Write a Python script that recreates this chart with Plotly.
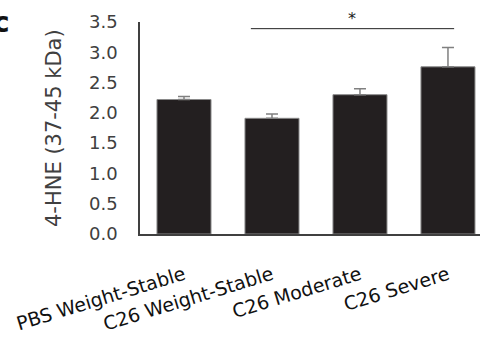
import plotly.graph_objects as go

categories = ["PBS Weight-Stable", "C26 Weight-Stable", "C26 Moderate", "C26 Severe"]
values = [2.22, 1.91, 2.30, 2.76]
errors = [0.05, 0.07, 0.10, 0.32]
y_ticks = [0.0, 0.5, 1.0, 1.5, 2.0, 2.5, 3.0, 3.5]

FONT = "DejaVu Sans, sans-serif"
L, R, T, B, W, H = 140, 0, 22, 105, 480, 339
PW, PH = W - L - R, H - T - B

fig = go.Figure()
fig.add_trace(go.Bar(
    x=list(range(len(categories))),
    y=values,
    width=0.614,
    marker=dict(color="#231f20", line=dict(color="#8a8a8a", width=1)),
    error_y=dict(type="data", array=errors, symmetric=False, arrayminus=[0] * 4,
                 color="#808080", thickness=1.5, width=6, visible=True),
    hoverinfo="skip",
))

# significance bracket
fig.add_shape(type="line", xref="x", yref="y", x0=0.76, x1=3.07, y0=3.39, y1=3.39,
              line=dict(color="#222222", width=1))
fig.add_annotation(x=1.91, y=3.39, xref="x", yref="y", text="*", showarrow=False,
                   yanchor="bottom", yshift=-1, font=dict(family=FONT, size=16, color="#222222"))

# panel letter
fig.add_annotation(x=(12 - L) / PW, y=1 + (T - 4) / PH, xref="paper", yref="paper",
                   text="<b>c</b>", showarrow=False, xanchor="right", yanchor="top",
                   font=dict(family=FONT, size=28, color="#111111"))

# y axis title
fig.add_annotation(x=(54 - L) / PW, y=0.5, xref="paper", yref="paper",
                   text="4-HNE (37-45 kDa)", showarrow=False, textangle=-90,
                   xanchor="center", yanchor="middle",
                   font=dict(family=FONT, size=21, color="#404040"))

fig.update_layout(
    width=W, height=H,
    margin=dict(l=L, r=R, t=T, b=B),
    paper_bgcolor="white", plot_bgcolor="white",
    showlegend=False,
    font=dict(family=FONT, size=18, color="#404040"),
    xaxis=dict(
        range=[-0.5, 3.364], automargin=False,
        tickmode="array", tickvals=list(range(len(categories))), ticktext=categories,
        tickangle=-17, showline=True, linecolor="#404040", linewidth=1.5,
        ticks="", showgrid=False, zeroline=False, ticklabelstandoff=21,
        tickfont=dict(family=FONT, size=19, color="#111111"),
    ),
    yaxis=dict(
        range=[0, 3.5], automargin=False, tickmode="array", tickvals=y_ticks,
        ticktext=[f"{v:.1f}" for v in y_ticks],
        showline=True, linecolor="#404040", linewidth=1.5,
        ticks="", showgrid=False, zeroline=False, ticklabelstandoff=17,
        tickfont=dict(family=FONT, size=18, color="#404040"),
    ),
)

fig.write_html("out.html", config={"displayModeBar": False},
               post_script="document.body.style.margin='0';")
